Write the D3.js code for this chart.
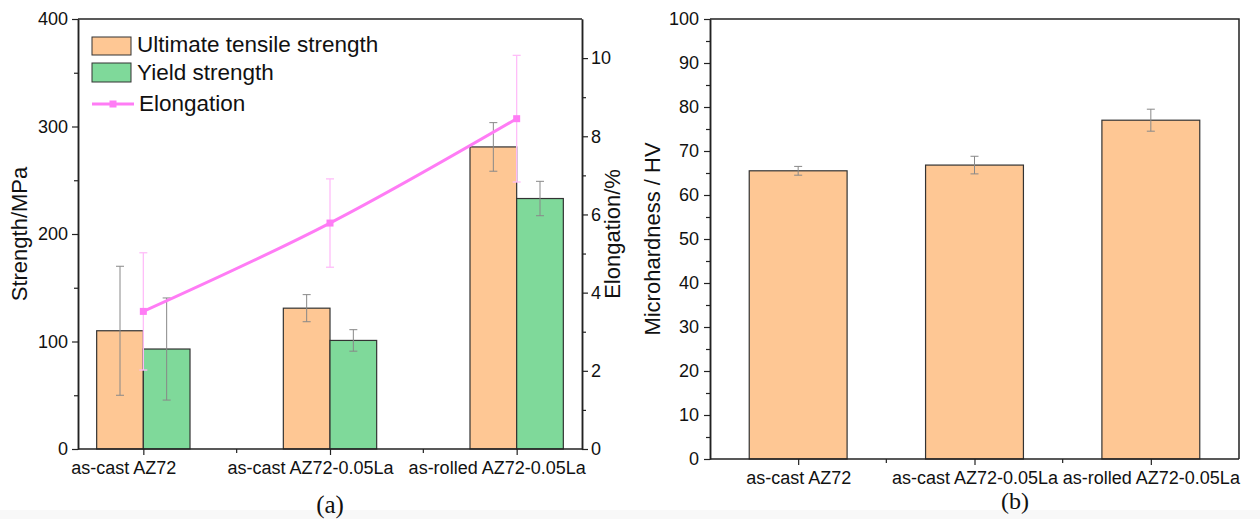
<!DOCTYPE html>
<html>
<head>
<meta charset="utf-8">
<script src="https://cdn.jsdelivr.net/npm/d3@7"></script>
<style>
  body { margin: 0; background: #fff; }
  text { font-family: "Liberation Sans", Arial, sans-serif; fill: #111; }
  .axis path, .axis line { stroke: #222; }
  .axis path { stroke-width: 1.5; }
  .axis line { stroke-width: 1.2; }
</style>
</head>
<body>
<svg id="chart" width="1260" height="519"></svg>
<script>
// data
var categories = ["as-cast AZ72", "as-cast AZ72-0.05La", "as-rolled AZ72-0.05La"];
var utsValues = [110, 131, 281];
var utsErrors = [60, 12.6, 22.6];
var ysValues = [93, 101, 233];
var ysErrors = [47.5, 10, 16];
var elongValues = [3.52, 5.78, 8.45];
var elongErrors = [1.5, 1.13, 1.62];
var hardValues = [65.5, 66.8, 77];
var hardErrors = [1, 2, 2.5];
var strengthTicks = [0, 100, 200, 300, 400];
var strengthMinor = [50, 150, 250, 350];
var elongTicks = [0, 2, 4, 6, 8, 10];
var elongMinor = [1, 3, 5, 7, 9];
var hardTicks = [0, 10, 20, 30, 40, 50, 60, 70, 80, 90, 100];
var hardMinor = [5, 15, 25, 35, 45, 55, 65, 75, 85, 95];

var svg = d3.select("#chart");
var orange = "#fec794", green = "#7fd99a", pink = "#ff7cf5";

svg.append("rect").attr("x", 0).attr("y", 510).attr("width", 1260).attr("height", 9).attr("fill", "#f8f8f8");

// ---------- panel (a) ----------
var A = {left: 78, right: 582, top: 19, bottom: 449};

var xA = d3.scalePoint().domain(categories).range([A.left, A.right]).padding(0.35);
var yS = d3.scaleLinear().domain([0, 400]).range([A.bottom, A.top]);
var yE = d3.scaleLinear().domain([0, 11]).range([A.bottom, A.top]);
var bw = xA.step() * 0.25;

var ga = svg.append("g");

function errBar(g, x, y1, y2, color, w) {
  g.append("line").attr("x1", x).attr("x2", x).attr("y1", y1).attr("y2", y2)
    .attr("stroke", color).attr("stroke-width", w);
  [y1, y2].forEach(function(y) {
    g.append("line").attr("x1", x - 4).attr("x2", x + 4).attr("y1", y).attr("y2", y)
      .attr("stroke", color).attr("stroke-width", w);
  });
}

// bars
ga.selectAll(".uts").data(utsValues).enter().append("rect")
  .attr("x", function(d, i) { return xA(categories[i]) - bw; })
  .attr("y", function(d) { return yS(d); })
  .attr("width", bw)
  .attr("height", function(d) { return A.bottom - yS(d); })
  .attr("fill", orange).attr("stroke", "#333").attr("stroke-width", 1.2);

ga.selectAll(".ys").data(ysValues).enter().append("rect")
  .attr("x", function(d, i) { return xA(categories[i]); })
  .attr("y", function(d) { return yS(d); })
  .attr("width", bw)
  .attr("height", function(d) { return A.bottom - yS(d); })
  .attr("fill", green).attr("stroke", "#333").attr("stroke-width", 1.2);

utsValues.forEach(function(v, i) {
  var x = xA(categories[i]) - bw / 2;
  errBar(ga, x, yS(v + utsErrors[i]), yS(v - utsErrors[i]), "#888", 1);
});
ysValues.forEach(function(v, i) {
  var x = xA(categories[i]) + bw / 2;
  errBar(ga, x, yS(v + ysErrors[i]), yS(v - ysErrors[i]), "#888", 1);
});

// elongation
elongValues.forEach(function(v, i) {
  errBar(ga, xA(categories[i]), yE(v + elongErrors[i]), yE(v - elongErrors[i]), "#ffbdf9", 1.3);
});
var line = d3.line()
  .x(function(d, i) { return xA(categories[i]); })
  .y(function(d) { return yE(d); })
  .curve(d3.curveMonotoneX);
ga.append("path").datum(elongValues).attr("d", line)
  .attr("fill", "none").attr("stroke", pink).attr("stroke-width", 3);
ga.selectAll(".mk").data(elongValues).enter().append("rect")
  .attr("x", function(d, i) { return xA(categories[i]) - 3.5; })
  .attr("y", function(d) { return yE(d) - 3.5; })
  .attr("width", 7).attr("height", 7).attr("fill", pink);

// axes
ga.append("g").attr("class", "axis").attr("transform", "translate(" + A.left + ",0)")
  .call(d3.axisLeft(yS).tickValues(strengthTicks).tickSize(6).tickSizeOuter(0).tickPadding(4));
ga.append("g").attr("class", "axis").attr("transform", "translate(" + A.left + ",0)")
  .call(d3.axisLeft(yS).tickValues(strengthMinor).tickSize(4).tickSizeOuter(0).tickFormat(""));
ga.append("g").attr("class", "axis").attr("transform", "translate(" + A.right + ",0)")
  .call(d3.axisRight(yE).tickValues(elongTicks).tickSize(6).tickSizeOuter(0).tickPadding(3));
ga.append("g").attr("class", "axis").attr("transform", "translate(" + A.right + ",0)")
  .call(d3.axisRight(yE).tickValues(elongMinor).tickSize(4).tickSizeOuter(0).tickFormat(""));
var axB = ga.append("g").attr("class", "axis").attr("transform", "translate(0," + A.bottom + ")")
  .call(d3.axisBottom(xA).tickSize(6).tickSizeOuter(0).tickPadding(6));
axB.select(".domain").attr("d", "M" + A.left + ",0H" + A.right);
axB.selectAll(".tick text").attr("x", -20);   // labels sit a bit left of their ticks
for (var i = 0; i < categories.length - 1; i++) {
  var mx = (xA(categories[i]) + xA(categories[i + 1])) / 2;
  axB.append("line").attr("x1", mx).attr("x2", mx).attr("y1", 0).attr("y2", 4);
}
ga.append("line").attr("x1", A.left).attr("x2", A.right).attr("y1", A.top).attr("y2", A.top)
  .attr("stroke", "#222").attr("stroke-width", 1.5);
ga.selectAll(".axis text").style("font-size", "18px");

ga.append("text").attr("transform", "translate(27," + (A.top + A.bottom) / 2 + ") rotate(-90)")
  .attr("text-anchor", "middle").style("font-size", "22px").text("Strength/MPa");
ga.append("text").attr("transform", "translate(620," + (A.top + A.bottom) / 2 + ") rotate(-90)")
  .attr("text-anchor", "middle").style("font-size", "22px").text("Elongation/%");

// legend
var lg = ga.append("g");
lg.append("rect").attr("x", 92).attr("y", 37).attr("width", 39).attr("height", 18)
  .attr("fill", orange).attr("stroke", "#333").attr("stroke-width", 1);
lg.append("rect").attr("x", 92).attr("y", 63).attr("width", 39).attr("height", 19)
  .attr("fill", green).attr("stroke", "#333").attr("stroke-width", 1);
lg.append("line").attr("x1", 92).attr("x2", 134).attr("y1", 104).attr("y2", 104)
  .attr("stroke", pink).attr("stroke-width", 3);
lg.append("rect").attr("x", 109.5).attr("y", 100.5).attr("width", 7).attr("height", 7).attr("fill", pink);
lg.append("text").attr("x", 137).attr("y", 52).style("font-size", "22.5px").text("Ultimate tensile strength");
lg.append("text").attr("x", 137).attr("y", 80).style("font-size", "22.5px").text("Yield strength");
lg.append("text").attr("x", 139).attr("y", 111).style("font-size", "22.5px").text("Elongation");

svg.append("text").attr("x", 330).attr("y", 513).attr("text-anchor", "middle")
  .style("font-family", "'Liberation Serif', 'Times New Roman', serif").style("font-size", "25px").text("(a)");

// ---------- panel (b) ----------
var B = {left: 710, right: 1239, top: 19, bottom: 459};
var xB = d3.scalePoint().domain(categories).range([B.left, B.right]).padding(0.5);
var yH = d3.scaleLinear().domain([0, 100]).range([B.bottom, B.top]);
var bwB = xB.step() * 0.555;
var gb = svg.append("g");

gb.selectAll(".hv").data(hardValues).enter().append("rect")
  .attr("x", function(d, i) { return xB(categories[i]) - bwB / 2; })
  .attr("y", function(d) { return yH(d); })
  .attr("width", bwB)
  .attr("height", function(d) { return B.bottom - yH(d); })
  .attr("fill", orange).attr("stroke", "#333").attr("stroke-width", 1.2);
hardValues.forEach(function(v, i) {
  errBar(gb, xB(categories[i]), yH(v + hardErrors[i]), yH(v - hardErrors[i]), "#888", 1);
});

gb.append("g").attr("class", "axis").attr("transform", "translate(" + B.left + ",0)")
  .call(d3.axisLeft(yH).tickValues(hardTicks).tickSize(6).tickSizeOuter(0).tickPadding(5));
gb.append("g").attr("class", "axis").attr("transform", "translate(" + B.left + ",0)")
  .call(d3.axisLeft(yH).tickValues(hardMinor).tickSize(4).tickSizeOuter(0).tickFormat(""));
var axBB = gb.append("g").attr("class", "axis").attr("transform", "translate(0," + B.bottom + ")")
  .call(d3.axisBottom(xB).tickSize(6).tickSizeOuter(0).tickPadding(6));
axBB.select(".domain").attr("d", "M" + B.left + ",0H" + B.right);
for (var j = 0; j < categories.length - 1; j++) {
  var mxb = (xB(categories[j]) + xB(categories[j + 1])) / 2;
  axBB.append("line").attr("x1", mxb).attr("x2", mxb).attr("y1", 0).attr("y2", 4);
}
gb.append("path").attr("d", "M" + B.left + "," + B.top + "H" + B.right + "V" + B.bottom)
  .attr("fill", "none").attr("stroke", "#222").attr("stroke-width", 1.5);
gb.selectAll(".axis text").style("font-size", "18px");

gb.append("text").attr("transform", "translate(660," + (B.top + B.bottom) / 2 + ") rotate(-90)")
  .attr("text-anchor", "middle").style("font-size", "22px").text("Microhardness / HV");

svg.append("text").attr("x", 1015).attr("y", 509).attr("text-anchor", "middle")
  .style("font-family", "'Liberation Serif', 'Times New Roman', serif").style("font-size", "24px").text("(b)");
</script>
</body>
</html>
